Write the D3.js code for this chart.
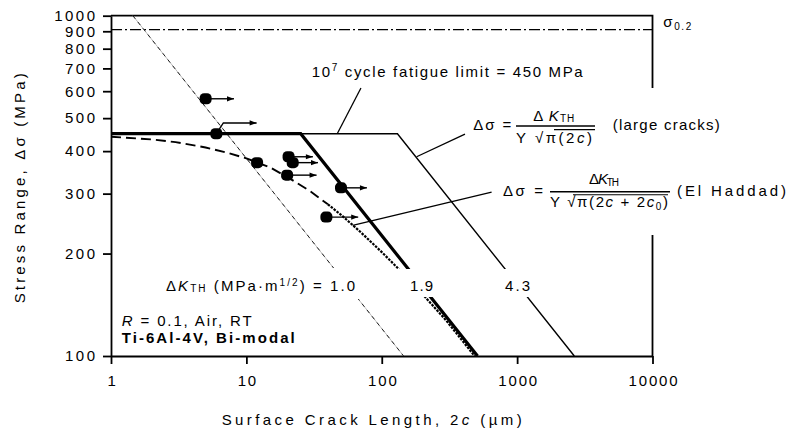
<!DOCTYPE html>
<meta charset="utf-8">
<html>
<head>
<style>
	body { margin: 0; background: #fff; }
	svg { font-family: "Liberation Sans", Arial, sans-serif; }
</style>
<script src="https://cdn.jsdelivr.net/npm/d3@7"></script>
</head>
<body>
<svg id="chart" width="787" height="433"></svg>
<script>
	// values: 2c in um, stress range in MPa
	var xTicks = [1, 10, 100, 1000, 10000];
	var yTicks = [100, 200, 300, 400, 500, 600, 700, 800, 900, 1000];
	var yieldStress = 910;
	var lefm10 = [[1.45, 1000], [145, 100]];
	var lefm19 = [[1, 450], [25.2, 450], [510, 100]];
	var lefm43 = [[25.2, 450], [130.6, 450], [2645, 100]];
	var haddadHead = [[1, 441], [2, 433], [3, 425], [5, 410], [7, 397], [10, 381], [15, 358], [20, 336], [30, 304], [40, 279]];
	var haddadTail = [[40, 279], [50, 260], [70, 231], [100, 202], [130, 182], [200, 152], [300, 127], [485, 100]];
	var failed = [[12, 370]];
	var runouts = [
		{ c: 5, s: 570, to: 8.1 },
		{ c: 6, s: 450, bend: [6.76, 484], to: 11.9 },
		{ c: 20.5, s: 385, to: 31 },
		{ c: 22, s: 370, to: 33.8 },
		{ c: 20, s: 340, to: 33 },
		{ c: 50, s: 312, to: 77.7 },
		{ c: 39, s: 256, to: 67 }
	];
	// leader lines, from label to curve
	var leaders = [
		[[70.2, 613], [46.9, 450]],
		[[412, 449], [181, 385]],
		[[648, 303], [61, 242]]
	];

	var svg = d3.select("#chart");
	var x = d3.scaleLog().domain([1, 10000]).range([111, 652.5]),
		y = d3.scaleLog().domain([100, 1000]).range([356, 15.7]);
	var line = d3.line().x(function (d) { return x(d[0]); }).y(function (d) { return y(d[1]); });

	// frame
	svg.append("path")
		.attr("d", "M" + x(1) + "," + y(1000) + "H" + x(10000) + "V" + y(100))
		.attr("fill", "none").attr("stroke", "#000").attr("stroke-width", 1.8);

	var gx = svg.append("g").attr("transform", "translate(0," + y(100) + ")");
	gx.call(d3.axisBottom(x).tickValues(x.ticks().filter(function (d) { return xTicks.indexOf(d) < 0; }))
		.tickSize(4).tickSizeOuter(0).tickFormat(""));
	gx.call(d3.axisBottom(x).tickValues(xTicks).tickSize(8).tickSizeOuter(0).tickPadding(11)
		.tickFormat(d3.format("d")));
	gx.selectAll("path, line").attr("stroke-width", 1.8);
	gx.selectAll("text").attr("font-size", 15).attr("font-family", null)
		.attr("letter-spacing", 1.9).attr("dx", 1);

	var gy = svg.append("g").attr("transform", "translate(" + x(1) + ",0)");
	gy.call(d3.axisLeft(y).tickValues(yTicks).tickSize(8).tickSizeOuter(0).tickPadding(5.5)
		.tickFormat(d3.format("d")));
	gy.selectAll("path, line").attr("stroke-width", 1.8);
	gy.selectAll("text").attr("font-size", 15).attr("font-family", null).attr("letter-spacing", 2.5);
	svg.selectAll(".domain").attr("stroke-width", 1.8);

	// yield stress
	svg.append("line")
		.attr("x1", x(1)).attr("x2", x(10000)).attr("y1", y(yieldStress)).attr("y2", y(yieldStress))
		.attr("stroke", "#000").attr("stroke-width", 1.3).attr("stroke-dasharray", "11,3,2,3");

	// large crack lines
	svg.append("path").attr("d", line(lefm10)).attr("fill", "none")
		.attr("stroke", "#aaa").attr("stroke-width", 0.8);
	svg.append("path").attr("d", line(lefm10)).attr("fill", "none")
		.attr("stroke", "#111").attr("stroke-width", 0.9).attr("stroke-dasharray", "4,4");
	svg.append("path").attr("d", line(lefm43)).attr("fill", "none")
		.attr("stroke", "#000").attr("stroke-width", 1.4);
	svg.append("path").attr("d", line(lefm19)).attr("fill", "none")
		.attr("stroke", "#000").attr("stroke-width", 3.2);

	// El Haddad curve
	svg.append("path").attr("d", line(haddadHead)).attr("fill", "none")
		.attr("stroke", "#000").attr("stroke-width", 1.9).attr("stroke-dasharray", "10,5");
	svg.append("path").attr("d", line(haddadTail)).attr("fill", "none")
		.attr("stroke", "#000").attr("stroke-width", 2.2).attr("stroke-dasharray", "2.5,1.2");

	// runout arrows and data points
	function arrowHead(xe, ye) {
		svg.append("path")
			.attr("d", "M" + xe + "," + ye + "l-7,-2.6v5.2z")
			.attr("fill", "#000");
	}
	runouts.forEach(function (d) {
		var pts = [[d.c, d.s]];
		if (d.bend) {
			pts.push(d.bend);
			pts.push([d.to, d.bend[1]]);
		} else {
			pts.push([d.to, d.s]);
		}
		svg.append("path").attr("d", line(pts)).attr("fill", "none")
			.attr("stroke", "#000").attr("stroke-width", 1.4);
		var last = pts[pts.length - 1];
		arrowHead(x(last[0]), y(last[1]));
	});
	svg.selectAll("rect.pt")
		.data(runouts.map(function (d) { return [d.c, d.s]; }).concat(failed))
		.enter()
		.append("rect")
		.attr("class", "pt")
		.attr("x", function (d) { return x(d[0]) - 6; })
		.attr("y", function (d) { return y(d[1]) - 5.5; })
		.attr("width", 12).attr("height", 11).attr("rx", 4.5)
		.attr("fill", "#000");

	// white backgrounds behind the labels
	[[468, 88, 257, 64], [498, 152, 289, 83], [163, 268, 197, 31], [397, 269, 40, 28], [500, 269, 34, 28]]
		.forEach(function (b) {
			svg.append("rect").attr("x", b[0]).attr("y", b[1]).attr("width", b[2]).attr("height", b[3])
				.attr("fill", "#fff");
		});

	// text helper: parts with italic, size and baseline shift
	function label(xp, yp, parts, o) {
		o = o || {};
		var t = svg.append("text").attr("x", xp).attr("y", yp)
			.attr("font-size", o.size || 15).attr("fill", "#000");
		if (o.len) t.attr("textLength", o.len).attr("lengthAdjust", "spacing");
		if (o.bold) t.attr("font-weight", "bold");
		if (o.rotate) t.attr("transform", "rotate(-90," + xp + "," + yp + ")");
		var cur = 0;
		parts.forEach(function (p) {
			if (typeof p == "string") p = { t: p };
			var s = t.append("tspan").text(p.t);
			var sh = p.shift || 0;
			if (sh != cur) { s.attr("dy", sh - cur); cur = sh; }
			if (p.i) s.attr("font-style", "italic");
			if (p.size) s.attr("font-size", p.size);
		});
		return t;
	}

	label(311.7, 77.3, ["10", { t: "7", size: 10, shift: -6 }, " cycle fatigue limit = 450 MPa"], { len: 271 });

	// large cracks equation
	label(473.3, 130, ["Δσ ="], { len: 38 });
	label(533.3, 120.7, ["Δ ", { t: "K", i: 1 }, { t: "TH", size: 10, shift: 1.5 }], { len: 41 });
	label(516, 142.5, ["Y √π(2", { t: "c", i: 1 }, ")"], { len: 76 });
	label(612.7, 130, ["(large cracks)"], { len: 107 });

	// El Haddad equation
	label(503, 195.5, ["Δσ ="], { len: 40 });
	label(589, 184, ["Δ", { t: "K", i: 1 }, { t: "TH", size: 10, shift: 1.5 }], { len: 30 });
	label(550, 206.5, ["Y √π(2", { t: "c", i: 1 }, " + 2", { t: "c", i: 1 }, { t: "0", size: 10, shift: 3 }, { t: ")", shift: 0 }], { len: 118 });
	label(677, 195.5, ["(El Haddad)"], { len: 109 });

	[[516, 595, 126], [554, 595, 129.6], [550, 670, 191.7], [573, 668, 194.8]].forEach(function (b, i) {
		svg.append("line").attr("x1", b[0]).attr("x2", b[1]).attr("y1", b[2]).attr("y2", b[2])
			.attr("stroke", "#000").attr("stroke-width", i % 2 ? 1.1 : 1.6);
	});

	label(166, 290.5, ["Δ", { t: "K", i: 1 }, { t: "TH", size: 10, shift: 1.5 }, { t: " (MPa·m", shift: 0 },
		{ t: "1/2", size: 10, shift: -5 }, { t: ") = 1.0", shift: 0 }], { len: 189 });
	label(410, 290.5, ["1.9"], { len: 23 });
	label(505, 290.5, ["4.3"], { len: 25 });

	label(121.7, 325.7, [{ t: "R", i: 1 }, " = 0.1, Air, RT"], { len: 130 });
	label(121.7, 342.7, ["Ti-6Al-4V, Bi-modal"], { len: 173, bold: 1 });

	label(663.3, 27.3, ["σ", { t: "0.2", size: 10, shift: 3 }], { len: 28 });

	// axis titles
	label(221.7, 425, ["Surface Crack Length, 2", { t: "c", i: 1 }, " (µm)"], { len: 300 });
	label(25, 303.3, ["Stress Range, Δσ (MPa)"], { len: 230, rotate: 1 });

	// leaders
	leaders.forEach(function (l) {
		svg.append("path").attr("d", line(l)).attr("fill", "none")
			.attr("stroke", "#000").attr("stroke-width", 1.3);
	});
</script>
</body>
</html>
